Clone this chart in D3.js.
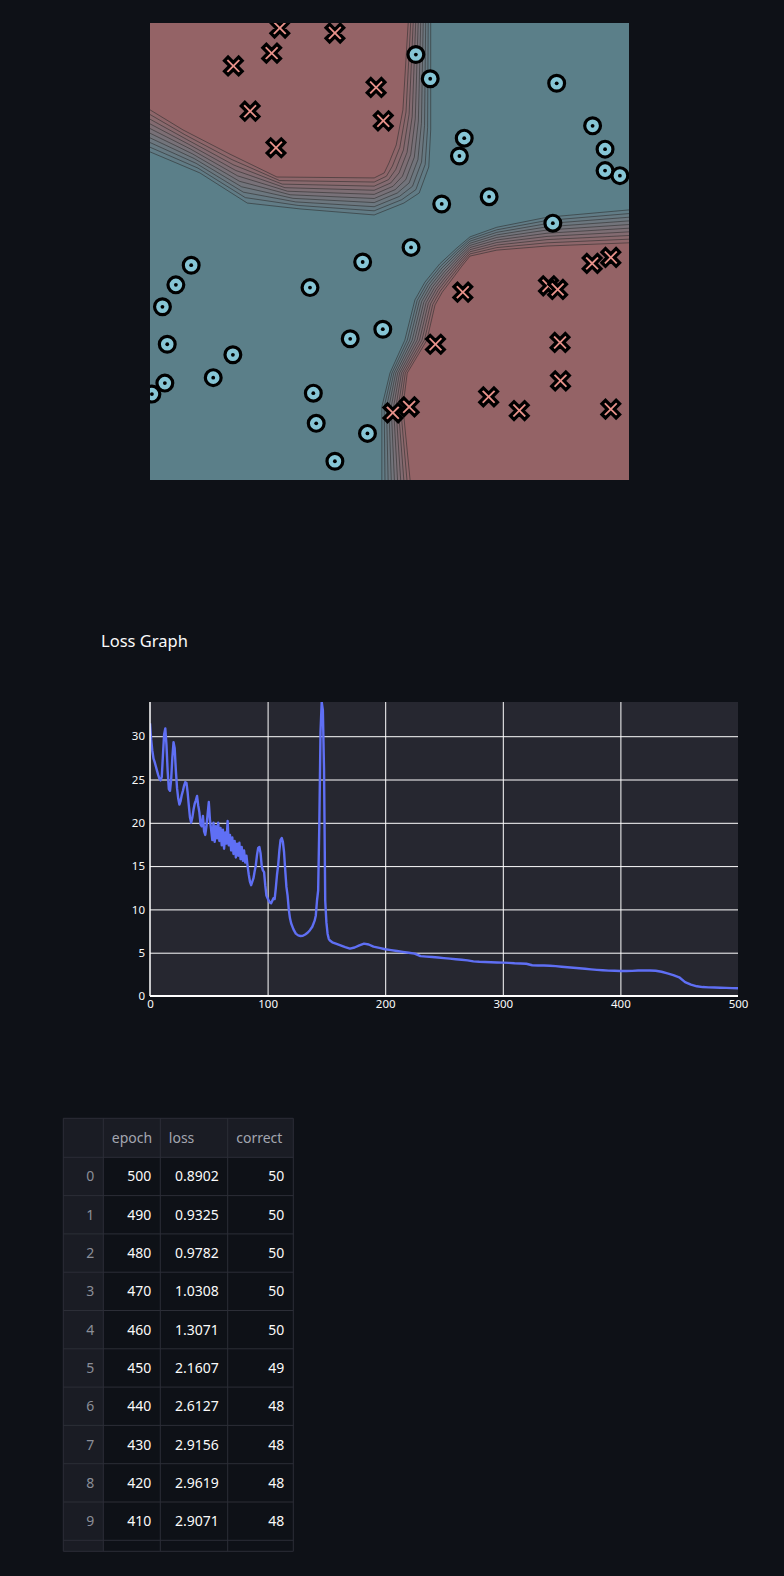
<!DOCTYPE html>
<html>
<head>
<meta charset="utf-8">
<script src="https://cdn.jsdelivr.net/npm/d3@7"></script>
<style>
  body { margin: 0; background: #0e1117; }
  svg { display: block; }
</style>
</head>
<body>
<div id="page"></div>
<script>
// ---- scatter data (unit square) ----
const crossPts = [
  [0.271, 0.989], [0.386, 0.978], [0.254, 0.934], [0.174, 0.906], [0.472, 0.859],
  [0.487, 0.786], [0.209, 0.807], [0.263, 0.727], [0.962, 0.487], [0.923, 0.474],
  [0.832, 0.425], [0.851, 0.417], [0.653, 0.411], [0.856, 0.301], [0.596, 0.297],
  [0.857, 0.217], [0.707, 0.182], [0.771, 0.152], [0.962, 0.155], [0.541, 0.160],
  [0.507, 0.147]
];
const circlePts = [
  [0.555, 0.931], [0.585, 0.878], [0.849, 0.868], [0.924, 0.775], [0.656, 0.748],
  [0.646, 0.709], [0.950, 0.724], [0.950, 0.677], [0.981, 0.666], [0.708, 0.620],
  [0.609, 0.604], [0.841, 0.562], [0.545, 0.509], [0.086, 0.470], [0.054, 0.427],
  [0.026, 0.379], [0.444, 0.477], [0.334, 0.421], [0.036, 0.297], [0.173, 0.274],
  [0.486, 0.330], [0.418, 0.309], [0.132, 0.224], [0.031, 0.212], [0.004, 0.188],
  [0.341, 0.190], [0.347, 0.124], [0.454, 0.102], [0.386, 0.041]
];

// decision boundary band edges (blue side / red side)
const topLeftOuter = [[0, 0.718], [0.104, 0.672], [0.203, 0.606], [0.315, 0.593], [0.468, 0.580],
  [0.530, 0.606], [0.562, 0.628], [0.582, 0.685], [0.586, 0.766], [0.586, 1.0]];
const topLeftInner = [[0, 0.810], [0.069, 0.766], [0.167, 0.713], [0.265, 0.663], [0.468, 0.661],
  [0.489, 0.672], [0.499, 0.694], [0.514, 0.733], [0.528, 0.810], [0.539, 1.0]];
const bottomRightOuter = [[1.0, 0.591], [0.829, 0.575], [0.724, 0.553], [0.668, 0.532], [0.641, 0.508],
  [0.605, 0.473], [0.574, 0.433], [0.553, 0.394], [0.532, 0.306], [0.501, 0.234], [0.484, 0.160], [0.484, 0.0]];
const bottomRightInner = [[1.0, 0.519], [0.829, 0.512], [0.724, 0.503], [0.668, 0.490], [0.651, 0.468],
  [0.626, 0.433], [0.610, 0.411], [0.595, 0.383], [0.578, 0.306], [0.537, 0.234], [0.528, 0.160], [0.543, 0.0]];

// ---- loss curve ----
const lossCurve = [
  [0,31.5],[1,29.6],[2,28.3],[3,27.4],[4,27.0],[5,26.5],[6,26.0],[7,25.5],[8,25.1],[9,24.9],
  [10,25.3],[11,27.8],[12,30.2],[13,30.9],[14,29.0],[15,26.0],[16,23.9],[17,23.7],[18,25.0],[19,27.5],
  [20,29.3],[21,28.6],[22,26.0],[23,24.0],[24,22.8],[25,22.1],[26,22.5],[27,23.2],[28,23.7],[29,24.3],
  [30,24.7],[31,24.6],[32,23.5],[33,22.0],[34,20.6],[35,20.0],[36,20.6],[37,21.5],[38,22.2],[39,22.6],
  [40,23.1],[41,22.0],[42,21.2],[43,19.8],[44,19.6],[45,20.8],[46,19.0],[47,18.6],[48,19.6],[49,21.0],
  [50,22.4],[51,20.3],[52,19.2],[53,18.0],[54,20.0],[55,17.8],[56,19.6],[57,18.2],[58,20.0],[59,17.9],
  [60,19.4],[61,17.4],[62,19.2],[63,17.0],[64,18.9],[65,17.6],[66,20.2],[67,17.4],[68,18.6],[69,16.8],
  [70,18.3],[71,16.4],[72,17.9],[73,16.0],[74,17.6],[75,16.2],[76,17.7],[77,15.8],[78,17.2],[79,15.6],
  [80,16.8],[81,15.4],[82,16.2],[83,15.0],[84,14.0],[85,13.2],[86,12.8],[87,13.2],[88,13.6],[89,14.4],
  [90,15.1],[91,16.3],[92,17.1],[93,17.2],[94,16.5],[95,15.0],[96,14.5],[97,14.3],[98,12.8],[99,11.6],
  [100,11.3],[101,11.0],[102,10.8],[103,10.7],[104,11.0],[105,11.3],[106,11.2],[107,12.5],[108,14.0],[109,15.1],
  [110,16.8],[111,18.0],[112,18.25],[113,17.8],[114,16.6],[115,14.5],[116,12.6],[117,11.6],[118,10.0],[119,9.0],
  [120,8.4],[122,7.7],[124,7.2],[126,7.0],[128,6.93],[130,6.95],[132,7.1],[134,7.3],[136,7.6],[138,8.0],
  [140,8.7],[141,9.3],[142,11.0],[143,12.2],[144,20.0],[145,30.5],[146,33.95],[147,33.0],[148,26.0],[149,11.0],
  [150,8.5],[151,7.2],[152,6.6],[153,6.4],[155,6.2],[158,6.05],[162,5.85],[166,5.65],[170,5.47],[174,5.6],
  [178,5.85],[182,6.05],[186,5.95],[190,5.7],[195,5.55],[200,5.4],[205,5.3],[210,5.2],[215,5.1],[220,5.0],
  [225,4.9],[230,4.6],[235,4.55],[240,4.5],[245,4.45],[250,4.38],[255,4.32],[260,4.25],[265,4.18],[270,4.12],
  [275,4.0],[280,3.95],[285,3.93],[290,3.9],[295,3.87],[300,3.85],[305,3.82],[310,3.78],[315,3.76],[320,3.72],
  [325,3.55],[330,3.53],[335,3.52],[340,3.5],[345,3.45],[350,3.38],[355,3.32],[360,3.26],[365,3.2],[370,3.15],
  [375,3.08],[380,3.02],[385,2.97],[390,2.93],[395,2.91],[400,2.89],[405,2.88],[410,2.9071],[415,2.94],[420,2.9619],
  [425,2.94],[430,2.9156],[435,2.8],[440,2.6127],[445,2.4],[450,2.1607],[455,1.6],[460,1.3071],[465,1.12],[470,1.0308],
  [475,1.0],[480,0.9782],[485,0.955],[490,0.9325],[495,0.91],[500,0.8902]
];
const xTicks = [0, 100, 200, 300, 400, 500];
const yTicks = [0, 5, 10, 15, 20, 25, 30];

// ---- table ----
const tableColumns = ['epoch', 'loss', 'correct'];
const tableEpoch = [500, 490, 480, 470, 460, 450, 440, 430, 420, 410];
const tableLoss = ['0.8902', '0.9325', '0.9782', '1.0308', '1.3071', '2.1607', '2.6127', '2.9156', '2.9619', '2.9071'];
const tableCorrect = [50, 50, 50, 50, 50, 49, 48, 48, 48, 48];

const FONT = '"Noto Sans", "Open Sans", sans-serif';
const BLUE = '#5b7f89', RED = '#946366';

const svg = d3.select('#page').append('svg')
  .attr('width', 784).attr('height', 1576)
  .attr('viewBox', [0, 0, 784, 1576]);

// ================= decision boundary plot =================
const sx = d3.scaleLinear().domain([0, 1]).range([150, 629]);
const sy = d3.scaleLinear().domain([0, 1]).range([480, 23]);

svg.append('clipPath').attr('id', 'clipA')
  .append('rect').attr('x', 150).attr('y', 23).attr('width', 479).attr('height', 457);

const gA = svg.append('g').attr('clip-path', 'url(#clipA)');
gA.append('rect').attr('x', 150).attr('y', 23).attr('width', 479).attr('height', 457).attr('fill', BLUE);

const nLevels = 10;
const mix = d3.interpolateRgb(BLUE, RED);
const toPx = p => [sx(p[0]), sy(p[1])];
const line = d3.line();

// filled bands between the two edges, each edge step drawn as a thin contour line
function band(outer, inner, corner) {
  const levels = d3.range(nLevels).map(k => {
    const t = k / (nLevels - 1);
    return outer.map((p, i) => [p[0] + (inner[i][0] - p[0]) * t, p[1] + (inner[i][1] - p[1]) * t]);
  });
  gA.append('g').selectAll('path')
    .data(levels)
    .join('path')
    .attr('d', pts => line(pts.concat([corner]).map(toPx)) + 'Z')
    .attr('fill', (d, k) => mix((k + 1) / nLevels));
  gA.append('g').selectAll('path')
    .data(levels)
    .join('path')
    .attr('d', pts => line(pts.map(toPx)))
    .attr('fill', 'none')
    .attr('stroke', '#2a2a2a')
    .attr('stroke-opacity', 0.75)
    .attr('stroke-width', 0.75);
}
band(topLeftOuter, topLeftInner, [0, 1]);
band(bottomRightOuter, bottomRightInner, [1, 0]);

// circle markers
const circ = gA.append('g').selectAll('g')
  .data(circlePts)
  .join('g')
  .attr('transform', d => `translate(${sx(d[0])},${sy(d[1])})`);
circ.append('circle').attr('r', 7.9).attr('fill', '#86c5d5').attr('stroke', '#000').attr('stroke-width', 3.2);
circ.append('circle').attr('r', 1.9).attr('fill', '#000');

// filled X markers
function xShape(a, L) {
  const plus = [[a, a], [L, a], [L, -a], [a, -a], [a, -L], [-a, -L], [-a, -a], [-L, -a], [-L, a], [-a, a], [-a, L], [a, L]];
  const c = Math.SQRT1_2;
  return d3.line()(plus.map(([x, y]) => [c * (x - y), c * (x + y)])) + 'Z';
}
gA.append('g').selectAll('path')
  .data(crossPts)
  .join('path')
  .attr('d', xShape(2.5, 10))
  .attr('transform', d => `translate(${sx(d[0])},${sy(d[1])})`)
  .attr('fill', '#e8928b')
  .attr('stroke', '#000')
  .attr('stroke-width', 3.2)
  .attr('stroke-linejoin', 'miter');

// ================= loss graph =================
svg.append('text')
  .attr('x', 101).attr('y', 647)
  .attr('fill', '#fafafa')
  .style('font-family', FONT).style('font-size', '16.5px')
  .text('Loss Graph');

const lx = d3.scaleLinear().domain([0, 500]).range([150, 738]);
const ly = d3.scaleLinear().domain([0, d3.max(lossCurve, d => d[1])]).range([996, 702]);

const gB = svg.append('g');
gB.append('rect').attr('x', 150).attr('y', 702).attr('width', 588).attr('height', 294).attr('fill', '#262730');

// grid
gB.append('g')
  .attr('transform', 'translate(150,0)')
  .call(d3.axisLeft(ly).tickValues(yTicks.slice(1)).tickSize(-588).tickFormat(''))
  .call(g => g.select('.domain').remove())
  .call(g => g.selectAll('line').attr('stroke', '#fff').attr('stroke-width', 1));
gB.append('g')
  .attr('transform', 'translate(0,996)')
  .call(d3.axisBottom(lx).tickValues(xTicks.slice(1, -1)).tickSize(-294).tickFormat(''))
  .call(g => g.select('.domain').remove())
  .call(g => g.selectAll('line').attr('stroke', '#fff').attr('stroke-width', 1));

svg.append('clipPath').attr('id', 'clipB')
  .append('rect').attr('x', 150).attr('y', 702).attr('width', 588).attr('height', 294);

gB.append('path')
  .datum(lossCurve)
  .attr('clip-path', 'url(#clipB)')
  .attr('d', d3.line().x(d => lx(d[0])).y(d => ly(d[1])))
  .attr('fill', 'none')
  .attr('stroke', '#5f6ff4')
  .attr('stroke-width', 2.4)
  .attr('stroke-linejoin', 'round');

// axis lines
gB.append('line').attr('x1', 150).attr('x2', 150).attr('y1', 702).attr('y2', 996).attr('stroke', '#fff').attr('stroke-width', 1.5);
gB.append('line').attr('x1', 150).attr('x2', 738).attr('y1', 996).attr('y2', 996).attr('stroke', '#fff').attr('stroke-width', 2);

// tick labels
gB.append('g')
  .attr('transform', 'translate(150,0)')
  .call(d3.axisLeft(ly).tickValues(yTicks).tickSize(0).tickPadding(5))
  .call(g => g.select('.domain').remove())
  .call(g => g.selectAll('text').attr('fill', '#fafafa').style('font-family', FONT).style('font-size', '11.5px'));
gB.append('g')
  .attr('transform', 'translate(0,996)')
  .call(d3.axisBottom(lx).tickValues(xTicks).tickSize(0).tickPadding(4))
  .call(g => g.select('.domain').remove())
  .call(g => g.selectAll('text').attr('fill', '#fafafa').style('font-family', FONT).style('font-size', '11.5px'));

// ================= table =================
const colX = [63.3, 103.3, 160.3, 227.7, 293.3];
const headTop = 1118.3, headH = 39, rowH = 38.3;
const rowsTop = headTop + headH;
const bodyBottom = rowsTop + rowH * tableEpoch.length;
const tableBottom = bodyBottom + 11;
const gT = svg.append('g').style('font-family', FONT).style('font-size', '14px');

gT.append('rect').attr('x', colX[0]).attr('y', headTop).attr('width', colX[4] - colX[0]).attr('height', headH).attr('fill', '#1a1c24');
gT.append('rect').attr('x', colX[0]).attr('y', rowsTop).attr('width', colX[1] - colX[0]).attr('height', tableBottom - rowsTop).attr('fill', '#1a1c24');

const hLines = d3.range(tableEpoch.length + 1).map(i => rowsTop + i * rowH).concat([headTop, tableBottom]);
gT.append('g').selectAll('line')
  .data(hLines)
  .join('line')
  .attr('x1', colX[0]).attr('x2', colX[4])
  .attr('y1', d => d).attr('y2', d => d)
  .attr('stroke', '#2c2e37').attr('stroke-width', 1);
gT.append('g').selectAll('line')
  .data(colX)
  .join('line')
  .attr('x1', d => d).attr('x2', d => d)
  .attr('y1', headTop).attr('y2', tableBottom)
  .attr('stroke', '#2c2e37').attr('stroke-width', 1);

gT.append('g').selectAll('text')
  .data(tableColumns)
  .join('text')
  .attr('x', (d, i) => colX[i + 1] + 8.5)
  .attr('y', headTop + headH / 2 + 5)
  .attr('fill', '#a3a6b0')
  .text(d => d);

const rows = gT.append('g').selectAll('g')
  .data(tableEpoch.map((e, i) => [i, e, tableLoss[i], tableCorrect[i]]))
  .join('g')
  .attr('transform', (d, i) => `translate(0,${rowsTop + i * rowH + rowH / 2 + 5})`);
rows.selectAll('text')
  .data(d => d)
  .join('text')
  .attr('x', (d, j) => colX[j + 1] - 9)
  .attr('text-anchor', 'end')
  .attr('fill', (d, j) => j === 0 ? '#8b8e98' : '#fafafa')
  .text(d => d);
</script>
</body>
</html>
